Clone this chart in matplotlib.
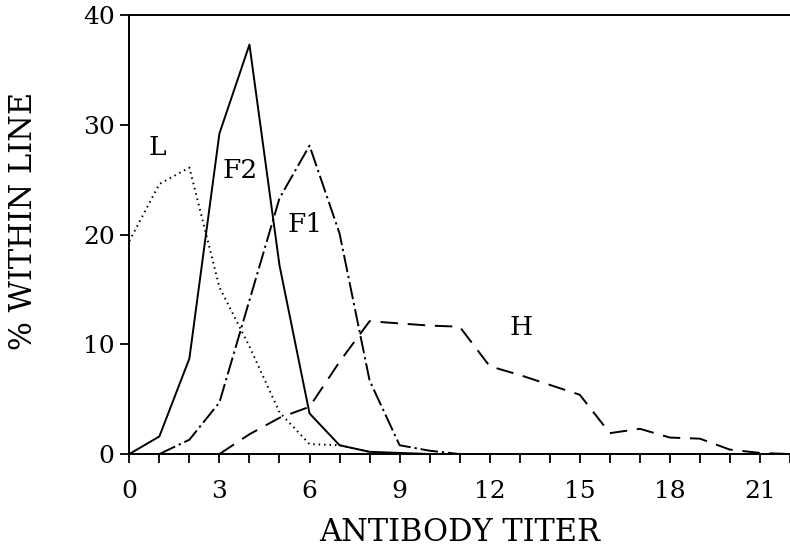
#!/usr/bin/env python3
"""Antibody titer distributions for the L, F1, F2 and H lines."""
import matplotlib

matplotlib.use("Agg")
import matplotlib.pyplot as plt
from matplotlib.ticker import FuncFormatter, MultipleLocator

# titer classes and percent of animals within each line
L_TITER = [0, 1, 2, 3, 4, 5, 6, 7, 8, 9]
L_PCT = [19.4, 24.6, 26.1, 15.2, 9.8, 3.8, 0.9, 0.8, 0.2, 0.0]

F2_TITER = [0, 1, 2, 3, 4, 5, 6, 7, 8, 9, 10]
F2_PCT = [0.0, 1.6, 8.7, 29.2, 37.3, 17.2, 3.7, 0.8, 0.2, 0.1, 0.0]

F1_TITER = [1, 2, 3, 4, 5, 6, 7, 8, 9, 10, 11]
F1_PCT = [0.0, 1.3, 4.7, 14.0, 23.3, 28.1, 20.1, 6.7, 0.8, 0.3, 0.0]

H_TITER = list(range(3, 23))
H_PCT = [0.0, 1.8, 3.3, 4.3, 8.4, 12.1, 11.9, 11.7, 11.6, 8.0, 7.2, 6.3,
         5.4, 1.9, 2.3, 1.5, 1.4, 0.4, 0.1, 0.0]

LINE_NAMES = ["L", "F2", "F1", "H"]
LABEL_X = [0.92, 3.68, 5.84, 13.06]
LABEL_Y = [27.9, 25.8, 20.9, 11.5]

plt.rcParams.update({
    "font.family": "DejaVu Serif",
    "axes.linewidth": 1.4,
})

fig = plt.figure(figsize=(7.9, 5.49), dpi=100)
ax = fig.add_axes([0.1637, 0.173, 0.8363, 0.7997])

lw = 1.4
ax.plot(L_TITER, L_PCT, color="black", lw=lw, linestyle=(0, (0.8, 2.0)))
ax.plot(F2_TITER, F2_PCT, color="black", lw=lw, linestyle="-")
ax.plot(F1_TITER, F1_PCT, color="black", lw=lw, linestyle=(0, (9, 2, 1.2, 2)))
ax.plot(H_TITER, H_PCT, color="black", lw=lw, linestyle=(0, (9, 5)))

for name, x, y in zip(LINE_NAMES, LABEL_X, LABEL_Y):
    ax.text(x, y, name, fontsize=19, ha="center", va="center")

ax.set_xlim(0, 22)
ax.set_ylim(0, 40)
ax.xaxis.set_major_locator(MultipleLocator(1))
ax.xaxis.set_major_formatter(
    FuncFormatter(lambda v, _: f"{int(round(v))}" if round(v) % 3 == 0 and v < 22 else "")
)
ax.set_yticks([0, 10, 20, 30, 40])
ax.tick_params(axis="both", direction="out", length=6.5, width=1.3, labelsize=18)
ax.tick_params(axis="x", pad=12)
ax.tick_params(axis="y", pad=4)
ax.spines["right"].set_visible(False)

ax.set_xlabel("ANTIBODY TITER", fontsize=22, labelpad=10)
ax.set_ylabel("% WITHIN LINE", fontsize=22)
ax.yaxis.set_label_coords(-0.137, 0.53)

fig.savefig("out.png", dpi=100)
plt.close(fig)
